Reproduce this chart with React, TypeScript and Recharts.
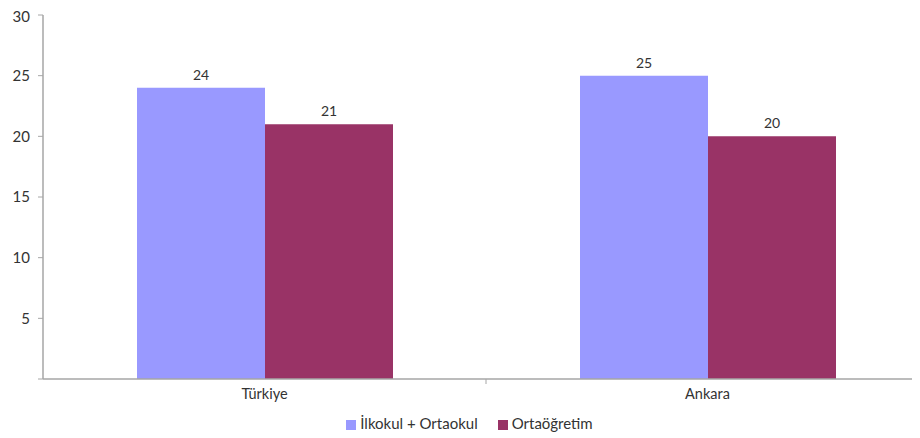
import React from "react";
import { BarChart, Bar, XAxis, YAxis, Legend, LabelList } from "recharts";

const categories = ["Türkiye", "Ankara"];
const ilkokulOrtaokul = [24, 25];
const ortaogretim = [21, 20];
const yTicks = [0, 5, 10, 15, 20, 25, 30];

const data = categories.map((c, i) => ({
  name: c,
  a: ilkokulOrtaokul[i],
  b: ortaogretim[i],
}));

const FONT = "Lato, 'Open Sans', sans-serif";
const AXIS = "#a6a6a6";
const TEXT = "#333333";

const XTick = (props: any) => {
  const { x, y, payload, index } = props;
  const half = payload && payload.offset ? payload.offset : 221;
  return (
    <g>
      {index > 0 && (
        <line x1={x - half} y1={y - 8} x2={x - half} y2={y - 3} stroke={AXIS} strokeWidth={1} />
      )}
      <text x={x} y={y + 12} textAnchor="middle" fill={TEXT} fontSize={14.5} fontFamily={FONT}>
        {payload.value}
      </text>
    </g>
  );
};

export default function App() {
  return (
    <div style={{ width: 912, height: 430, overflow: "hidden", background: "#fff" }}>
      <BarChart
        width={921}
        height={428}
        data={data}
        margin={{ top: 7, right: 0, bottom: 4, left: 0 }}
        barCategoryGap={94}
        barGap={0}
      >
        <YAxis
          width={35}
          domain={[0, 30]}
          ticks={yTicks}
          tickFormatter={(v: number) => (v === 0 ? "" : String(v))}
          axisLine={{ stroke: AXIS, strokeWidth: 1.5 }}
          tickLine={{ stroke: AXIS }}
          tickSize={5}
          tickMargin={8}
          tick={{ fill: TEXT, fontSize: 15, fontFamily: FONT }}
        />
        <XAxis
          dataKey="name"
          axisLine={{ stroke: AXIS, strokeWidth: 1.5 }}
          tickLine={false}
          tick={<XTick />}
          height={35}
        />
        <Legend
          verticalAlign="bottom"
          iconType="square"
          iconSize={10}
          itemSorter="dataKey"
          wrapperStyle={{ fontFamily: FONT, fontSize: 15, color: TEXT, paddingLeft: 11 }}
          formatter={(value: string) => (
            <span style={{ color: TEXT, marginRight: 10 }}>{value}</span>
          )}
        />
        <Bar dataKey="a" name="İlkokul + Ortaokul" fill="#9999ff" isAnimationActive={false}>
          <LabelList dataKey="a" position="top" offset={8} fill={TEXT} fontSize={14} fontFamily={FONT} />
        </Bar>
        <Bar dataKey="b" name="Ortaöğretim" fill="#993366" isAnimationActive={false}>
          <LabelList dataKey="b" position="top" offset={8} fill={TEXT} fontSize={14} fontFamily={FONT} />
        </Bar>
      </BarChart>
    </div>
  );
}
